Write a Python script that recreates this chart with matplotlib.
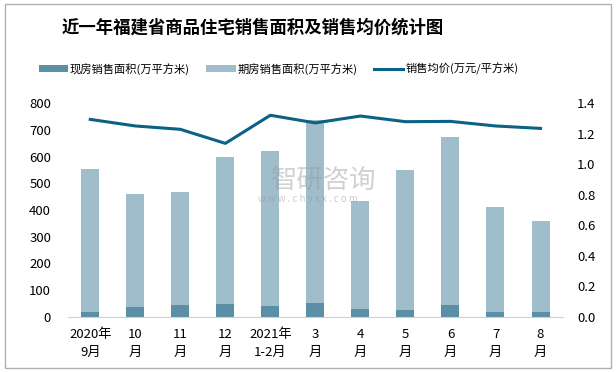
import numpy as np
import matplotlib.pyplot as plt
from matplotlib.patches import Rectangle

plt.rcParams['font.family'] = ['Noto Sans CJK SC', 'DejaVu Sans']

months = ["2020年\n9月", "10\n月", "11\n月", "12\n月", "2021年\n1-2月", "3\n月",
          "4\n月", "5\n月", "6\n月", "7\n月", "8\n月"]
existing = [19, 37, 45, 49, 41, 52, 30, 26, 45, 19, 19]
forward = [534, 423, 422, 549, 579, 684, 405, 524, 628, 392, 340]
avg_price = [1.293, 1.25, 1.228, 1.136, 1.32, 1.27, 1.315, 1.278, 1.28, 1.25, 1.234]

c_dark = "#5b8fa5"
c_light = "#9fbdca"
c_line = "#0a6284"

fig = plt.figure(figsize=(6.16, 3.72), dpi=100)
ax = fig.add_axes([0.110, 0.148, 0.804, 0.575])
x = np.arange(len(months))

ax.bar(x, existing, width=0.4, color=c_dark, label="现房销售面积(万平方米)", zorder=2)
ax.bar(x, forward, width=0.4, bottom=existing, color=c_light,
       label="期房销售面积(万平方米)", zorder=2)

ax2 = ax.twinx()
ax2.plot(x, avg_price, color=c_line, lw=2.2, label="销售均价(万元/平方米)")

ax.set_xlim(-0.5, len(months) - 0.5)
ax.set_ylim(0, 800)
ax.set_yticks(range(0, 801, 100))
ax2.set_ylim(0, 1.4)
ax2.set_yticks(np.arange(0, 1.41, 0.2))
ax2.set_yticklabels([f"{v:.1f}" for v in np.arange(0, 1.41, 0.2)])
ax.set_xticks(x)
ax.set_xticklabels(months, fontsize=9.5, linespacing=1.5)

for a in (ax, ax2):
    for s in a.spines.values():
        s.set_visible(False)
    a.tick_params(length=0, labelsize=9.5)
ax.spines['bottom'].set_visible(True)
ax.spines['bottom'].set_color("#d0d0d0")
ax.tick_params(axis='x', pad=8)
ax.tick_params(axis='y', pad=12)
ax2.tick_params(axis='y', pad=10)

fig.text(0.41, 0.925, "近一年福建省商品住宅销售面积及销售均价统计图", ha='center', va='center',
         fontsize=12.5, fontweight='bold')

h1, l1 = ax.get_legend_handles_labels()
h2, l2 = ax2.get_legend_handles_labels()
fig.legend(h1 + h2, l1 + l2, loc='center', bbox_to_anchor=(0.452, 0.815), ncol=3,
           frameon=False, fontsize=8.1, handlelength=2.6, handleheight=0.7,
           columnspacing=1.5, handletextpad=0.15)

# watermark
fig.text(0.525, 0.515, "智研咨询", fontsize=19, color="#999999", alpha=0.45,
         ha='center', va='center')
fig.text(0.50, 0.465, "w w w . c h y x x . c o m", fontsize=7, color="#999999",
         alpha=0.5, ha='center', va='center')

fig.patches.append(Rectangle((0.008, 0.012), 0.984, 0.976, transform=fig.transFigure,
                             fill=False, edgecolor="#b0b0b0", lw=1))

fig.savefig("out.png", dpi=100)
